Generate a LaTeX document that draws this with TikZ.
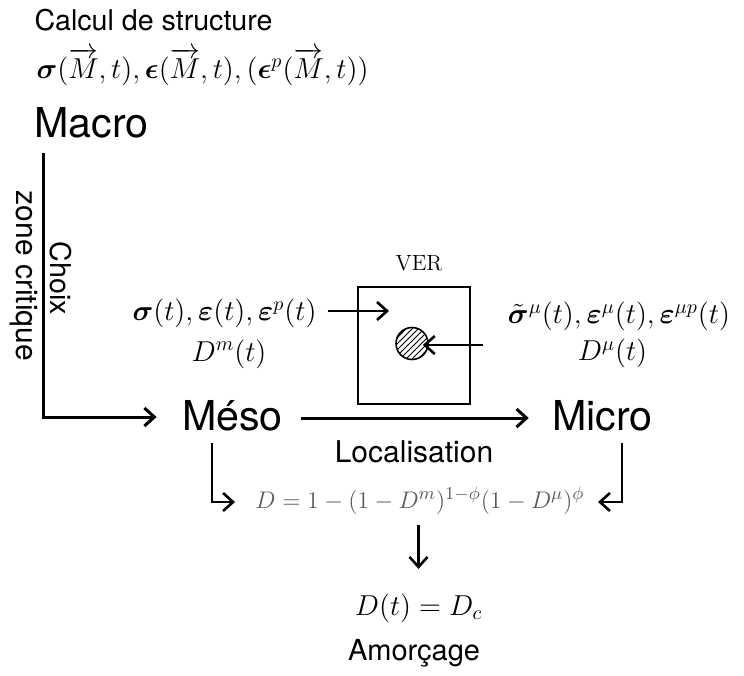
\documentclass[tikz,border=0pt]{standalone}
\usepackage{fontspec}
\setsansfont{TeX Gyre Heros}
\usepackage{amsmath,amssymb,bm}
\usetikzlibrary{arrows.meta}
\usetikzlibrary{patterns}
\usepackage{xcolor}

\tikzset{
  texte/.style={font=\sffamily\fontsize{14.3}{16}\selectfont,inner sep=0pt},
  echelle/.style={font=\sffamily\fontsize{20.6}{24}\selectfont,inner sep=0pt},
  champ/.style={font=\fontsize{14}{16}\selectfont,inner sep=0pt},
}

\begin{document}
\begin{tikzpicture}[x=0.5pt,y=-0.5pt,line width=1.5pt,>={Straight Barb[length=5pt,width=9pt]}]
\useasboundingbox (0,0) rectangle (744,675);

\node [texte,anchor=base west] (titre) at (33,30) {Calcul de structure};
\node [champ,anchor=base west] (champs) at (35,78) {$\bm{\sigma}(\overrightarrow{M},t),\bm{\epsilon}(\overrightarrow{M},t),(\bm{\epsilon}^p(\overrightarrow{M},t))$};
\node [echelle,anchor=base west] (macro) at (33,137) {Macro};

\node [echelle,anchor=base] (meso) at (232.5,430) {Méso};
\node [echelle,anchor=base] (micro) at (602.5,430) {Micro};
\node [texte,font=\sffamily\fontsize{15}{17}\selectfont,anchor=base] (loc) at (414,462) {Localisation};

\node [texte,rotate=-90] (choix) at (61,278.5) {Choix};
\node [texte,font=\sffamily\fontsize{15}{17}\selectfont,rotate=-90] (zone) at (24,276) {zone critique};

% VER
\node [draw,minimum width=56pt,minimum height=58.5pt,line width=1pt] (ver) at (414,345.5) {};
\node [font=\fontsize{11}{13}\selectfont,anchor=base,inner sep=0pt] (nomver) at (419,270) {VER};
\node [circle,draw,minimum size=16pt,inner sep=0pt,line width=0.8pt,pattern=north east lines] (incl) at (412,343.5) {};

\node [champ] (gauche) at (224.5,313.5) {$\bm{\sigma}(t),\bm{\varepsilon}(t),\bm{\varepsilon}^p(t)$};
\node [champ] (dm) at (229,354) {$D^m(t)$};
\node [champ] (droite) at (619,316.5) {$\tilde{\bm{\sigma}}^\mu(t),\bm{\varepsilon}^\mu(t),\bm{\varepsilon}^{\mu p}(t)$};
\node [champ] (dmu) at (612.5,353.5) {$D^\mu(t)$};

\node [champ,font=\fontsize{12.6}{14}\selectfont,black!65,anchor=base] (formule) at (420,508) {$D=1-(1-D^m)^{1-\phi}(1-D^\mu)^\phi$};
\node [champ,font=\fontsize{14.5}{17}\selectfont,anchor=base] (dc) at (418.5,615) {$D(t)=D_c$};
\node [texte,font=\sffamily\fontsize{14.5}{17}\selectfont,anchor=base] (amorce) at (414,660) {Amorçage};

\draw [->] ([xshift=5pt,yshift=-8pt]macro.base west) |- ([xshift=-12pt,yshift=6.5pt]meso.base west);
\draw [->] ([xshift=8.5pt,yshift=6pt]meso.base east) -- ([xshift=-11pt,yshift=6pt]micro.base west);
\draw [->,line width=1.3pt] ([xshift=5pt,yshift=1.25pt]gauche.east) -- ++(30.5pt,0);
\draw [->,line width=1.3pt] ([xshift=27pt,yshift=-0.75pt]incl.east) -- ([xshift=-3pt,yshift=-0.75pt]incl.east);
\draw [->,line width=1.3pt] ([xshift=-10.25pt,yshift=-6.5pt]meso.base) |- ([xshift=-9.5pt,yshift=3pt]formule.base west);
\draw [->,line width=1.3pt] ([xshift=9.75pt,yshift=-6.5pt]micro.base) |- ([xshift=6pt,yshift=3pt]formule.base east);
\draw [->,line width=1.3pt,shorten <=8.5pt,shorten >=11.5pt] (dc.north |- formule.base) -- (dc.north);
\end{tikzpicture}
\end{document}
